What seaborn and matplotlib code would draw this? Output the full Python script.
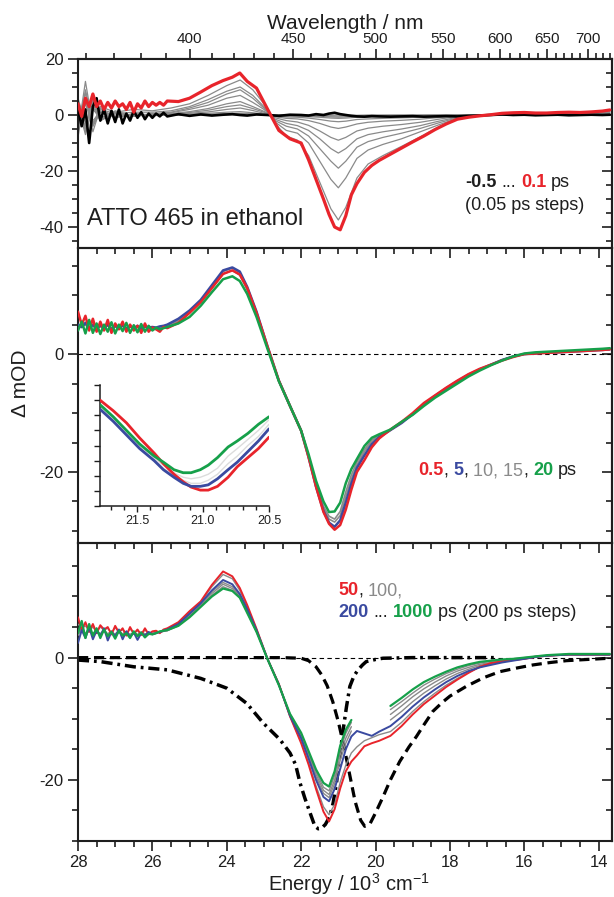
import numpy as np
import matplotlib
matplotlib.use("Agg")
import matplotlib.pyplot as plt
import seaborn as sns
from matplotlib.ticker import MultipleLocator, FixedLocator, NullFormatter, FormatStrFormatter

# ---------------- data ----------------
energy = [28.0, 27.9, 27.8, 27.7, 27.6, 27.5, 27.4, 27.3, 27.2, 27.1, 27.0, 26.9, 26.8, 26.7, 26.6,
          26.5, 26.4, 26.3, 26.2, 26.1, 26.0, 25.9, 25.8, 25.7, 25.6,
          25.3, 25.0, 24.7, 24.4, 24.1, 23.85, 23.65, 23.45, 23.2, 22.9, 22.6, 22.3, 22.0, 21.8, 21.6,
          21.4, 21.25, 21.1, 20.95, 20.8, 20.65, 20.5, 20.3, 20.1, 19.9, 19.6, 19.3, 19.0, 18.7, 18.4,
          18.1, 17.8, 17.5, 17.2, 16.9, 16.6, 16.3, 16.0, 15.7, 15.4, 15.1, 14.8, 14.5, 14.2, 13.9, 13.7]

# top panel: -0.5 ps (black) and 0.1 ps (red)
top_red_01ps = [4, -0.5, 6, 3, 7.5, 3, 5, 2, 4.5, 2.5, 5, 3, 4, 2, 4.5, 1, 4, 2.5, 5, 3, 4.5, 3.5, 4.5, 3.5, 5,
                4.8, 6.0, 8.2, 10.5, 12.3, 13.5, 15.0, 12.0, 9.6, 2.0, -5.5, -8.5, -10.0, -16.0, -23.0,
                -30.0, -35.5, -40.0, -41.0, -36.0, -28.5, -24.5, -20.5, -18.0, -16.2, -14.0, -11.8, -9.6, -7.5, -5.2,
                -3.2, -1.5, -0.8, -0.3, 0.1, 0.6, 0.8, 0.9, 0.7, 0.7, 0.9, 1.0, 0.9, 1.1, 1.4, 1.8]
top_black_m05ps = [2, -4, 2, -10, 3, 6, -2, 2, -3, 1.5, -2.5, 2, -3, 0.5, -2, 1.5, -1, 1, -1.5, 0.5, -1, 0.5, -0.5, 0.8, -0.5,
                   0.3, -0.3, 0.2, -0.2, 0.1, 0.3, 0.0, -0.2, 0.2, 0.0, -0.3, 0.1, 0.0, -0.2, 0.3,
                   0.0, 0.5, 0.8, 0.3, 0.0, -0.3, -0.5, -0.6, -0.4, -0.5, -0.6, -0.5, -0.4, -0.6, -0.5,
                   -0.4, -0.5, -0.3, -0.2, 0.0, 0.2, 0.0, 0.1, -0.1, 0.0, 0.1, -0.1, 0.0, 0.1, 0.0, 0.1]

energy_gray = [28.0, 27.8, 27.6, 27.4, 27.0, 26.5, 26.0, 25.5, 25.0, 24.5, 24.0, 23.64, 23.3, 23.0, 22.7,
               22.4, 22.1, 21.8, 21.5, 21.2, 21.0, 20.8, 20.5, 20.2, 19.8, 19.3, 18.8, 18.3, 17.8, 17.2,
               16.5, 15.5, 14.5, 13.7]
top_gray_1 = [6, -3, 3, -2, 1, -0.5, 0.3, 0, 0, 0.1, 0.1, 0.1, 0.1, 0, 0, 0, 0, 0, -0.1, -0.1,
              0, 0, -0.1, 0, 0, 0, 0, 0, 0, 0, 0, 0, 0, 0]
top_gray_2 = [-2, 4, -4, 1, -0.5, 0.3, 0, 0, 0.1, 0.2, 0.3, 0.3, 0.2, 0.1, 0, -0.1, -0.1, -0.2, -0.3, -0.4,
              -0.4, -0.4, -0.3, -0.2, -0.2, -0.1, -0.1, 0, 0, 0, 0, 0, 0, 0]
top_gray_3 = [5, -6, 2, -1, 0.5, -0.3, 0.2, 0, 0.2, 0.3, 0.5, 0.6, 0.4, 0.2, -0.1, -0.2, -0.3, -0.4, -0.5, -0.7,
              -0.8, -0.7, -0.5, -0.4, -0.4, -0.3, -0.2, -0.1, 0, 0, 0, 0, 0.1, 0]
top_gray_4 = [-4, 5, -3, 1.5, -0.5, 0.3, -0.2, 0.1, 0.3, 0.6, 1, 1.2, 0.8, 0.3, -0.2, -0.4, -0.4, -0.6, -0.8, -1.1,
              -1.2, -1.1, -0.8, -0.7, -0.6, -0.5, -0.4, -0.3, -0.1, 0, 0, 0.1, 0, 0.1]
top_gray_5 = [3, -7, 4, -2, 0.5, -0.5, 0.3, 0.2, 0.6, 1.1, 2, 2.5, 1.6, 0.6, -0.4, -0.7, -0.8, -1.1, -1.6, -2.2,
              -2.4, -2.2, -1.6, -1.4, -1.2, -1, -0.8, -0.5, -0.2, 0, 0.1, 0.1, 0.1, 0.2]
top_gray_6 = [-5, 6, -2, 1, -1, 0.5, -0.3, 0.3, 0.9, 1.7, 3, 3.6, 2.3, 1, -0.6, -1.2, -1.4, -2, -3, -4.3,
              -4.8, -4.3, -3.2, -2.6, -2.2, -1.9, -1.5, -0.9, -0.3, 0, 0.1, 0.1, 0.2, 0.3]
top_gray_7 = [2, -4, 5, -1, 0.5, -0.5, 0.5, 0.5, 1.2, 2.3, 4, 4.8, 3, 1.3, -1, -2, -2.5, -3.7, -5.7, -8,
              -9, -8, -5.7, -4.7, -4, -3.4, -2.6, -1.5, -0.5, 0, 0.2, 0.2, 0.3, 0.5]
top_gray_8 = [-3, 8, -6, 2.5, -1, 0.5, 0, 0.8, 2, 3.5, 6, 7, 4.5, 2, -1.5, -3, -3.8, -5.5, -8.5, -12,
              -13.6, -12, -8.5, -7, -6, -5, -3.8, -2.2, -0.8, -0.1, 0.3, 0.3, 0.4, 0.8]
top_gray_9 = [4, -5, 6, -2, 1.5, -0.5, 0.5, 1, 2.5, 4.5, 7.5, 9, 6, 2.5, -2, -4, -5, -7.5, -12, -16.5,
              -19, -16.5, -11.5, -9.5, -8, -6.5, -4.8, -2.8, -1, -0.2, 0.4, 0.4, 0.5, 1]
top_gray_10 = [-8, 9, -3, 2, 0.5, 1, 1, 1.5, 3, 5.5, 8.5, 10, 7, 3, -2.5, -5.5, -6.5, -10, -16.5, -23,
               -26, -22.5, -15.5, -12.5, -10.5, -8.5, -6, -3.5, -1.2, -0.2, 0.5, 0.5, 0.6, 1.2]
top_gray_11 = [-6, 12, -4, 3, 1, 2, 1.5, 2.5, 4, 7, 10.5, 12.5, 9, 4, -3, -7.5, -9, -14.5, -24, -33.5,
               -37.5, -33, -22.5, -17.5, -14.5, -11.2, -7.8, -4.2, -1.4, -0.3, 0.6, 0.6, 0.8, 1.5]

# middle panel: 0.5, 5, 10, 15, 20 ps
mid_red_05ps = [7.2, 5.0, 6.5, 4.0, 6.0, 3.8, 5.5, 4.0, 5.8, 3.6, 5.2, 4.2, 5.5, 3.8, 5.0, 4.0, 4.8, 3.6, 5.2, 3.8,
                4.5, 4.2, 3.8, 4.6, 4.4,
                5.3, 7.0, 8.8, 11.2, 13.6, 14.2, 13.5, 11.2, 7.0, 1.2, -4.5, -8.8, -13.0, -17.5, -22.5,
                -26.8, -28.8, -29.8, -29.0, -26.4, -23.0, -20.0, -18.0, -15.8, -14.3, -12.8, -11.5, -10.0, -8.3, -7.0,
                -5.7, -4.5, -3.4, -2.5, -1.8, -1.1, -0.5, 0.0, 0.1, 0.2, 0.3, 0.4, 0.5, 0.6, 0.7, 0.8]
mid_blue_5ps = [5.0, 4.6, 5.3, 4.4, 5.0, 4.3, 4.9, 4.5, 5.0, 4.2, 4.8, 4.4, 4.9, 4.3, 4.7, 4.4, 4.8, 4.3, 4.7, 4.5,
                4.6, 4.5, 4.7, 4.8, 5.0,
                6.0, 7.4, 9.2, 11.7, 14.2, 14.7, 14.0, 11.4, 7.2, 1.2, -4.5, -8.8, -13.0, -17.5, -22.5,
                -26.6, -28.6, -29.3, -28.2, -25.2, -22.0, -19.3, -17.2, -15.3, -14.1, -12.9, -11.7, -10.2, -8.5, -7.1,
                -5.8, -4.6, -3.5, -2.6, -1.8, -1.0, -0.4, 0.0, 0.1, 0.3, 0.3, 0.4, 0.5, 0.6, 0.7, 0.8]
mid_gray_10ps = [4.8, 4.5, 5.1, 4.3, 4.9, 4.4, 4.8, 4.3, 4.9, 4.3, 4.7, 4.4, 4.8, 4.2, 4.6, 4.4, 4.7, 4.3, 4.6, 4.4,
                 4.5, 4.4, 4.6, 4.7, 4.9,
                 5.8, 7.2, 9.0, 11.5, 14.0, 14.6, 13.8, 11.2, 7.0, 1.1, -4.5, -8.8, -13.0, -17.4, -22.2,
                 -26.2, -28.0, -28.5, -27.4, -24.2, -21.2, -18.8, -16.6, -14.9, -13.9, -12.9, -11.6, -10.2, -8.6, -7.2,
                 -5.9, -4.7, -3.6, -2.7, -1.8, -1.0, -0.4, 0.0, 0.1, 0.3, 0.4, 0.5, 0.6, 0.7, 0.8, 0.9]
mid_gray_15ps = [4.6, 4.8, 4.9, 4.5, 4.7, 4.5, 4.6, 4.4, 4.8, 4.4, 4.6, 4.5, 4.7, 4.3, 4.6, 4.5, 4.6, 4.4, 4.6, 4.5,
                 4.5, 4.4, 4.5, 4.6, 4.8,
                 5.6, 7.0, 8.8, 11.2, 13.6, 14.2, 13.4, 10.9, 6.8, 1.0, -4.5, -8.8, -13.0, -17.3, -22.0,
                 -25.8, -27.5, -28.0, -26.7, -23.4, -20.5, -18.3, -16.2, -14.6, -13.8, -12.9, -11.6, -10.2, -8.7, -7.3,
                 -6.0, -4.8, -3.7, -2.7, -1.8, -1.0, -0.4, 0.0, 0.2, 0.3, 0.4, 0.5, 0.6, 0.7, 0.8, 0.9]
mid_green_20ps = [4.0, 5.5, 3.5, 5.8, 3.6, 5.2, 3.4, 5.0, 3.8, 5.4, 3.5, 5.0, 3.9, 5.3, 3.6, 4.9, 3.7, 5.1, 3.8, 4.8,
                  4.0, 4.5, 4.2, 4.4, 4.6,
                  5.2, 6.3, 8.2, 10.5, 12.7, 13.2, 12.4, 10.2, 6.3, 0.8, -4.6, -8.8, -13.0, -17.0, -21.5,
                  -25.0, -26.8, -26.7, -25.2, -21.9, -19.5, -17.8, -15.6, -14.2, -13.6, -12.8, -11.5, -10.3, -8.8, -7.4,
                  -6.2, -5.0, -3.8, -2.8, -1.9, -1.1, -0.4, 0.1, 0.3, 0.4, 0.5, 0.6, 0.7, 0.8, 0.9, 1.0]

# bottom panel: 50, 100, 200 ... 1000 ps
nan = float("nan")
bot_red_50ps = [6.6, 4.5, 5.8, 4.2, 5.5, 4.0, 5.3, 4.6, 5.0, 3.8, 5.2, 4.1, 4.8, 3.6, 5.0, 3.9, 4.6, 3.7, 4.8, 3.8,
                4.3, 4.4, 4.0, 4.6, 4.8,
                5.8, 7.6, 9.2, 11.9, 14.1, 13.3, 11.4, 8.6, 4.7, -0.3, -4.3, -9.6, -14.0, -17.5, -21.5,
                -25.2, -26.8, -24.8, -21.4, -18.6, -17.0, -16.0, -14.5, -14.0, -13.6, -12.8, -11.2, -9.3, -7.6, -6.2,
                -4.8, -3.6, -2.5, -1.5, -0.9, -0.6, -0.4, -0.2, 0.1, 0.3, 0.4, 0.5, 0.5, 0.5, 0.5, 0.5]
bot_gray_100ps = [5.5, 4.8, 5.2, 4.4, 5.0, 4.2, 5.0, 4.5, 4.8, 4.0, 4.9, 4.2, 4.6, 3.9, 4.7, 4.0, 4.4, 3.9, 4.5, 4.0,
                  4.2, 4.3, 4.1, 4.5, 4.7,
                  5.7, 7.5, 9.1, 11.6, 13.6, 12.9, 11.0, 8.3, 4.6, -0.3, -4.3, -9.6, -13.8, -17.2, -21.0,
                  -24.4, -25.7, -24.0, -20.4, -17.6, -15.6, -14.6, -13.6, -13.1, -12.6, -12.1, -10.6, -8.8, -7.2, -5.8,
                  -4.5, -3.4, -2.4, -1.6, -1.0, -0.7, -0.4, -0.2, 0.1, 0.3, 0.4, 0.5, 0.5, 0.5, 0.5, 0.5]
bot_blue_200ps = [2.4, 4.5, 3.2, 5.0, 3.0, 4.4, 3.6, 4.8, 2.8, 4.2, 3.5, 4.6, 3.0, 4.3, 3.4, 4.1, 2.9, 4.0, 3.6, 4.2,
                  3.8, 4.0, 4.2, 4.4, 4.6,
                  5.5, 7.2, 8.9, 11.0, 12.7, 12.0, 10.4, 7.9, 4.5, -0.3, -4.4, -9.5, -13.2, -16.5, -20.0,
                  -22.8, -23.5, -21.5, -18.2, -15.0, -12.9, -12.0, -12.4, -12.8, -12.1, -11.2, -9.7, -8.0, -6.5, -5.2,
                  -4.0, -3.0, -2.2, -1.6, -1.2, -0.8, -0.5, -0.2, 0.1, 0.3, 0.4, 0.5, 0.5, 0.5, 0.5, 0.5]
bot_gray_400ps = [3.8, 4.8, 3.9, 4.6, 3.8, 4.4, 3.9, 4.5, 3.7, 4.2, 3.8, 4.4, 3.8, 4.2, 3.7, 4.2, 3.7, 4.1, 3.8, 4.1,
                  3.9, 4.1, 4.2, 4.4, 4.5,
                  5.4, 7.0, 8.7, 10.8, 12.3, 11.6, 10.3, 7.8, 4.4, -0.3, -4.4, -9.4, -12.9, -16.1, -19.5,
                  -22.2, -22.9, -20.6, -16.8, -14.0, -12.0, nan, nan, nan, nan, -10.2, -8.8, -7.2, -5.8, -4.6,
                  -3.5, -2.6, -1.9, -1.3, -0.9, -0.6, -0.4, -0.1, 0.2, 0.3, 0.4, 0.5, 0.5, 0.5, 0.5, 0.5]
bot_gray_600ps = [4.2, 4.4, 4.0, 4.7, 3.6, 4.5, 3.8, 4.3, 3.9, 4.4, 3.6, 4.2, 3.9, 4.3, 3.6, 4.0, 3.8, 4.2, 3.7, 4.0,
                  4.0, 4.2, 4.1, 4.3, 4.4,
                  5.3, 6.9, 8.6, 10.5, 12.0, 11.3, 10.1, 7.6, 4.3, -0.3, -4.4, -9.3, -12.7, -15.8, -19.1,
                  -21.7, -22.4, -20.0, -15.9, -13.2, -11.3, nan, nan, nan, nan, -9.3, -7.9, -6.4, -5.1, -4.0,
                  -3.0, -2.2, -1.6, -1.1, -0.8, -0.5, -0.3, -0.1, 0.2, 0.3, 0.4, 0.5, 0.5, 0.5, 0.5, 0.5]
bot_gray_800ps = [3.6, 5.0, 3.7, 4.4, 4.0, 4.2, 3.6, 4.6, 3.8, 4.0, 3.9, 4.3, 3.6, 4.1, 3.8, 4.1, 3.6, 4.2, 3.9, 3.9,
                  3.8, 4.0, 4.2, 4.3, 4.4,
                  5.2, 6.8, 8.4, 10.2, 11.6, 11.0, 9.9, 7.4, 4.2, -0.3, -4.5, -9.2, -12.5, -15.5, -18.7,
                  -21.2, -21.8, -19.3, -15.1, -12.4, -10.6, nan, nan, nan, nan, -8.5, -7.2, -5.8, -4.5, -3.5,
                  -2.6, -1.9, -1.3, -0.9, -0.6, -0.4, -0.2, 0.0, 0.2, 0.3, 0.4, 0.5, 0.5, 0.5, 0.5, 0.5]
bot_green_1000ps = [4.0, 6.0, 3.2, 5.5, 3.6, 4.8, 3.2, 4.6, 3.5, 4.2, 3.1, 4.4, 3.6, 4.0, 3.2, 4.3, 3.5, 4.1, 3.3, 3.9,
                    3.8, 4.0, 4.3, 4.4, 4.5,
                    5.2, 6.6, 8.3, 10.0, 11.3, 10.9, 9.8, 7.3, 4.2, -0.3, -4.5, -9.2, -12.3, -15.3, -18.3,
                    -20.5, -21.1, -18.6, -14.4, -11.8, -10.2, nan, nan, nan, nan, -7.9, -6.6, -5.2, -4.0, -3.1,
                    -2.3, -1.6, -1.1, -0.7, -0.5, -0.3, -0.2, 0.0, 0.2, 0.4, 0.5, 0.6, 0.6, 0.6, 0.6, 0.6]

# steady-state absorption (dash-dot) and emission (dashed), scaled
energy_abs = [28.0, 27.4, 26.5, 25.6, 24.7, 24.0, 23.46, 23.02, 22.57, 22.3, 22.15, 22.03, 21.9, 21.76, 21.63,
              21.54, 21.45, 21.35, 21.23, 21.14, 21.05, 20.96, 20.87, 20.78, 20.69, 20.58, 20.47, 20.35, 20.25,
              20.0, 19.8, 19.0, 18.0, 16.7]
absorption = [-0.4, -0.65, -1.5, -2.0, -3.4, -5.0, -7.5, -10.7, -13.4, -15.6, -17.5, -20.5, -23.0, -25.4, -27.6,
              -28.0, -27.9, -27.3, -26.0, -23.8, -20.5, -16.0, -11.8, -8.0, -4.7, -3.0, -2.0, -1.2, -0.65,
              -0.3, -0.1, 0.0, 0.0, 0.0]
energy_em = [28.0, 26.0, 24.0, 22.5, 22.0, 21.8, 21.6, 21.45, 21.3, 21.15, 21.0, 20.85, 20.7, 20.55, 20.4,
             20.29, 20.15, 20.0, 19.8, 19.6, 19.35, 19.1, 18.9, 18.7, 18.46, 18.2, 18.0, 17.56, 17.1, 16.66,
             16.2, 15.77, 15.3, 14.87, 14.3, 13.7]
emission = [0, 0, 0, 0, -0.1, -0.5, -1.5, -2.8, -4.6, -7.2, -10.5, -14.5, -19.0, -23.5, -26.6,
            -27.6, -27.2, -25.4, -22.8, -20.0, -17.0, -14.6, -12.9, -11.0, -8.8, -7.3, -6.3, -4.7, -3.3, -2.3,
            -1.7, -1.2, -0.8, -0.5, -0.3, -0.1]

# inset (zoom of the middle-panel bleach minimum)
inset_energy = [21.78, 21.68, 21.58, 21.48, 21.37, 21.3, 21.22, 21.15, 21.09, 21.02, 20.96, 20.89, 20.81,
                20.74, 20.66, 20.58, 20.5]
inset_red = [-24.0, -24.7, -25.5, -26.5, -27.5, -28.2, -28.9, -29.4, -29.75, -29.95, -29.95, -29.7, -29.1,
             -28.4, -27.8, -27.2, -26.45]
inset_blue = [-24.6, -25.4, -26.3, -27.2, -28.0, -28.6, -29.1, -29.5, -29.7, -29.7, -29.6, -29.2, -28.6,
              -28.1, -27.4, -26.7, -25.9]
inset_gray_10 = [-24.5, -25.3, -26.2, -27.1, -27.9, -28.5, -29.0, -29.3, -29.5, -29.5, -29.3, -28.9, -28.2,
                 -27.7, -27.0, -26.4, -25.6]
inset_gray_15 = [-24.4, -25.2, -26.1, -27.0, -27.8, -28.3, -28.8, -29.1, -29.2, -29.1, -28.9, -28.5, -27.7,
                 -27.2, -26.6, -26.0, -25.3]
inset_green = [-24.3, -25.1, -26.0, -26.9, -27.7, -28.1, -28.6, -28.8, -28.8, -28.6, -28.3, -27.8, -27.1,
               -26.7, -26.2, -25.6, -25.1]

wavelength_major = [400, 450, 500, 550, 600, 650, 700]
wavelength_minor = [w for w in range(360, 740, 10) if w not in wavelength_major]

for _name, _arr in list(globals().items()):
    if _name.startswith(("top_red", "top_black", "mid_", "bot_")):
        assert len(_arr) == len(energy), (_name, len(_arr))
    if _name.startswith("top_gray"):
        assert len(_arr) == len(energy_gray), (_name, len(_arr))

# ---------------- style ----------------
RED = "#e8242b"
BLUE = "#3a4aa0"
GREEN = "#16a04a"
GRAY = "#8a8a8a"
INK = "#1e1e1e"

sns.set_theme(style="ticks")
plt.rcParams.update({
    "font.family": ["Liberation Sans", "DejaVu Sans"],
    "mathtext.fontset": "custom",
    "mathtext.rm": "Liberation Sans",
    "mathtext.it": "Liberation Sans:italic",
    "mathtext.bf": "Liberation Sans:bold",
    "axes.unicode_minus": False,
    "axes.edgecolor": INK,
    "xtick.color": INK,
    "ytick.color": INK,
    "text.color": INK,
})

W_PX, H_PX = 614, 897
fig = plt.figure(figsize=(W_PX / 100, H_PX / 100), dpi=100)
fig.patch.set_facecolor("white")

L = 78 / W_PX
WID = 533.7 / W_PX
ax1 = fig.add_axes([L, 1 - 248 / H_PX, WID, 189 / H_PX])
ax2 = fig.add_axes([L, 1 - 542.7 / H_PX, WID, 294.7 / H_PX])
ax3 = fig.add_axes([L, 1 - 841 / H_PX, WID, 298.3 / H_PX])


def draw(ax, x, y, **kw):
    x = np.asarray(x, float)
    y = np.asarray(y, float)
    idx = np.flatnonzero(~np.isnan(y))
    for seg in np.split(idx, np.flatnonzero(np.diff(idx) > 1) + 1):
        if len(seg) > 1:
            sns.lineplot(x=x[seg], y=y[seg], ax=ax, sort=False, estimator=None,
                         errorbar=None, legend=False, **kw)


def style_main(ax, ylim, xlabels):
    ax.set_facecolor("none")
    ax.set_xlim(28, 13.65)
    ax.set_ylim(*ylim)
    ax.xaxis.set_major_locator(MultipleLocator(2))
    ax.xaxis.set_minor_locator(MultipleLocator(0.5))
    ax.yaxis.set_major_locator(MultipleLocator(20))
    ax.yaxis.set_minor_locator(MultipleLocator(5))
    ax.tick_params(axis="x", which="both", direction="out", bottom=True, top=False,
                   labelbottom=xlabels, labelsize=12, width=1.2, pad=2.5)
    ax.tick_params(axis="y", which="both", direction="out", left=True, right=False,
                   labelsize=12, width=1.2, pad=3)
    ax.tick_params(which="major", length=7.5)
    ax.tick_params(which="minor", length=4.5)
    for sp in ax.spines.values():
        sp.set_linewidth(1.5)
        sp.set_visible(True)
    ax.set_xlabel("")
    ax.set_ylabel("")
    sy = ax.secondary_yaxis("right")
    sy.yaxis.set_major_locator(MultipleLocator(20))
    sy.yaxis.set_minor_locator(MultipleLocator(5))
    sy.tick_params(which="both", direction="in", labelright=False, width=1.2)
    sy.tick_params(which="major", length=7.5)
    sy.tick_params(which="minor", length=4.5)
    sy.spines["right"].set_linewidth(1.5)


# ---- top panel ----
for g in [top_gray_1, top_gray_2, top_gray_3, top_gray_4, top_gray_5, top_gray_6,
          top_gray_7, top_gray_8, top_gray_9, top_gray_10, top_gray_11]:
    draw(ax1, energy_gray, g, color=GRAY, linewidth=0.9, zorder=2)
draw(ax1, energy, top_black_m05ps, color="black", linewidth=1.9, zorder=3)
draw(ax1, energy, top_red_01ps, color=RED, linewidth=2.3, zorder=4)
style_main(ax1, (-47.5, 20), False)


def e2w(e):
    e = np.asarray(e, float)
    with np.errstate(divide="ignore", invalid="ignore"):
        return 1e4 / e


sec = ax1.secondary_xaxis("top", functions=(e2w, e2w))
sec.xaxis.set_major_locator(FixedLocator(wavelength_major))
sec.xaxis.set_minor_locator(FixedLocator(wavelength_minor))
sec.xaxis.set_minor_formatter(NullFormatter())
sec.tick_params(which="both", direction="out", labelsize=11, width=1.2, pad=2)
sec.tick_params(which="major", length=7.5)
sec.tick_params(which="minor", length=4.5)
sec.spines["top"].set_linewidth(1.5)

# ---- middle panel ----
ax2.axhline(0, color="black", linewidth=0.8, linestyle=(0, (4, 3)), zorder=1)
draw(ax2, energy, mid_gray_15ps, color=GRAY, linewidth=1.2, zorder=2)
draw(ax2, energy, mid_gray_10ps, color=GRAY, linewidth=1.2, zorder=2)
draw(ax2, energy, mid_blue_5ps, color=BLUE, linewidth=1.8, zorder=3)
draw(ax2, energy, mid_red_05ps, color=RED, linewidth=1.8, zorder=4)
draw(ax2, energy, mid_green_20ps, color=GREEN, linewidth=1.8, zorder=5)
style_main(ax2, (-32, 18), False)

# ---- bottom panel ----
ax3.axhline(0, color="black", linewidth=0.8, linestyle=(0, (4, 3)), zorder=1)
draw(ax3, energy_abs, absorption, color="black", linewidth=2.5, linestyle=(0, (3.2, 1.4, 0.8, 1.4)), zorder=2)
draw(ax3, energy_em, emission, color="black", linewidth=2.3, linestyle=(0, (3.2, 1.8)), zorder=2)
for g in [bot_gray_100ps, bot_gray_400ps, bot_gray_600ps, bot_gray_800ps]:
    draw(ax3, energy, g, color=GRAY, linewidth=1.0, zorder=3)
draw(ax3, energy, bot_red_50ps, color=RED, linewidth=1.4, zorder=4)
draw(ax3, energy, bot_blue_200ps, color=BLUE, linewidth=1.4, zorder=4)
draw(ax3, energy, bot_green_1000ps, color=GREEN, linewidth=1.6, zorder=5)
style_main(ax3, (-30, 18.8), True)

# ---- inset ----
axin = fig.add_axes([100 / W_PX, 1 - 506 / H_PX, 169 / W_PX, 121 / H_PX])
axin.set_facecolor("white")
draw(axin, inset_energy, inset_gray_15, color="#dcdcdc", linewidth=1.0, zorder=2)
draw(axin, inset_energy, inset_gray_10, color="#dcdcdc", linewidth=1.0, zorder=2)
draw(axin, inset_energy, inset_red, color=RED, linewidth=2.0, zorder=3)
draw(axin, inset_energy, inset_blue, color=BLUE, linewidth=2.0, zorder=4)
draw(axin, inset_energy, inset_green, color=GREEN, linewidth=2.0, zorder=5)
axin.set_xlim(21.78, 20.5)
axin.set_ylim(-31, -23)
axin.xaxis.set_major_locator(MultipleLocator(0.5))
axin.xaxis.set_minor_locator(MultipleLocator(0.1))
axin.xaxis.set_major_formatter(FormatStrFormatter("%.1f"))
axin.yaxis.set_major_locator(MultipleLocator(1))
axin.tick_params(which="both", direction="out", labelsize=9, width=1.0, left=True, bottom=True,
                 labelleft=False, pad=2)
axin.tick_params(which="major", length=4.5)
axin.tick_params(which="minor", length=3)
for s in ("top", "right"):
    axin.spines[s].set_visible(False)
for s in ("left", "bottom"):
    axin.spines[s].set_linewidth(1.1)
axin.set_xlabel("")
axin.set_ylabel("")

# ---------------- texts ----------------
fig.text(345 / W_PX, 1 - 29 / H_PX, "Wavelength / nm", ha="center", va="baseline", fontsize=15)
fig.text(349 / W_PX, 1 - 891 / H_PX, "Energy / 10$^3$ cm$^{-1}$", ha="center", va="baseline", fontsize=14.5)
fig.text(21 / W_PX, 1 - 383 / H_PX, "\u0394 mOD", ha="center", va="center", rotation=90, fontsize=15)
fig.text(87 / W_PX, 1 - 225 / H_PX, "ATTO 465 in ethanol", ha="left", va="baseline", fontsize=17)

SP = 3.6  # a space, in points, at 13 pt


def rich(x_px, y_px, parts, size=13):
    s0, c0, w0 = parts[0][:3]
    t = fig.text(x_px / W_PX, 1 - y_px / H_PX, s0, color=c0, fontweight=w0, fontsize=size,
                 ha="left", va="baseline")
    for s, c, w, gap in parts[1:]:
        t = ax1.annotate(s, xy=(1, 0), xycoords=t, xytext=(gap, 0), textcoords="offset points",
                         color=c, fontweight=w, fontsize=size, ha="left", va="bottom",
                         annotation_clip=False)


rich(465, 187, [("-0.5", INK, "bold"), ("...", INK, "normal", SP), ("0.1", RED, "bold", SP),
                ("ps", INK, "normal", SP)])
rich(465, 210, [("(0.05 ps steps)", INK, "normal")])

rich(418, 475, [("0.5", RED, "bold"), (",", INK, "normal", 0), ("5", BLUE, "bold", SP),
                (",", INK, "normal", 0), ("10, 15", GRAY, "normal", SP), (",", INK, "normal", 0),
                ("20", GREEN, "bold", SP), ("ps", INK, "normal", SP)])

rich(338, 595, [("50", RED, "bold"), (",", INK, "normal", 0), ("100,", GRAY, "normal", SP)])
rich(338, 617, [("200", BLUE, "bold"), ("...", INK, "normal", SP), ("1000", GREEN, "bold", SP),
                ("ps (200 ps steps)", INK, "normal", SP)])

fig.savefig("out.png", dpi=100)
